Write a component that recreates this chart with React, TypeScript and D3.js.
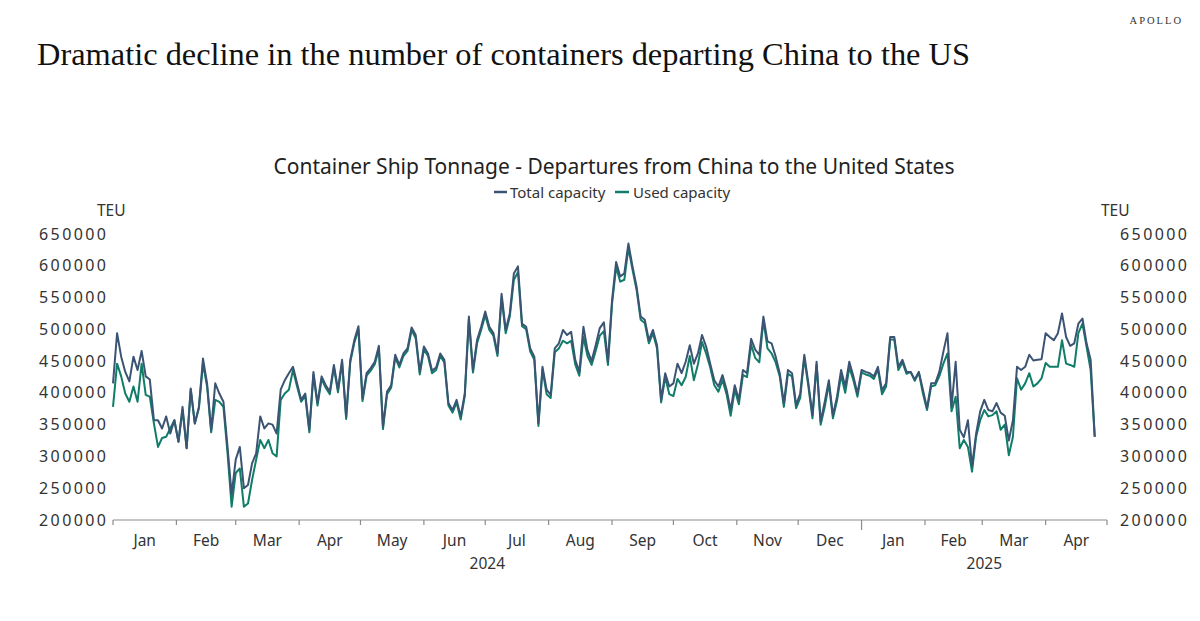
import * as d3 from "d3";

// daily series sampled every 2 days from 1 Jan 2024
const startDate = new Date(2024, 0, 1);
const stepDays = 2;

const totalCapacity = [
  415000, 494000, 457000, 433000, 418000, 457000, 436000, 466000, 426000, 421000,
  357000, 357000, 344000, 363000, 336000, 357000, 323000, 378000, 313000, 407000,
  352000, 378000, 454000, 415000, 342000, 415000, 399000, 386000, 315000, 240000,
  295000, 315000, 250000, 255000, 289000, 305000, 363000, 344000, 352000, 350000,
  336000, 405000, 420000, 431000, 441000, 415000, 389000, 399000, 342000, 433000,
  384000, 426000, 412000, 402000, 444000, 405000, 452000, 363000, 452000, 483000,
  505000, 391000, 431000, 439000, 449000, 474000, 347000, 402000, 412000, 460000,
  444000, 462000, 470000, 503000, 491000, 433000, 473000, 462000, 435000, 440000,
  462000, 452000, 384000, 373000, 389000, 363000, 399000, 520000, 436000, 483000,
  504000, 528000, 504000, 494000, 462000, 556000, 499000, 525000, 588000, 599000,
  509000, 504000, 470000, 457000, 352000, 441000, 405000, 397000, 470000, 478000,
  499000, 491000, 496000, 452000, 433000, 504000, 467000, 450000, 475000, 502000,
  511000, 449000, 546000, 606000, 583000, 588000, 635000, 599000, 567000, 520000,
  515000, 483000, 499000, 475000, 389000, 431000, 410000, 415000, 446000, 431000,
  449000, 475000, 446000, 462000, 491000, 473000, 446000, 420000, 410000, 428000,
  405000, 373000, 412000, 389000, 436000, 431000, 485000, 468000, 460000, 520000,
  481000, 478000, 457000, 431000, 384000, 436000, 431000, 381000, 399000, 460000,
  415000, 365000, 449000, 355000, 386000, 420000, 365000, 394000, 436000, 410000,
  449000, 426000, 399000, 436000, 433000, 431000, 426000, 441000, 404000, 415000,
  488000, 488000, 441000, 452000, 433000, 433000, 421000, 433000, 405000, 376000,
  415000, 415000, 433000, 465000, 494000, 378000, 449000, 342000, 330000, 357000,
  284000, 336000, 371000, 389000, 373000, 371000, 384000, 369000, 364000, 325000,
  357000, 441000, 436000, 441000, 460000, 451000, 452000, 453000, 494000, 488000,
  483000, 494000, 525000, 488000, 474000, 478000, 509000, 517000, 478000, 452000,
  331000,
];

const usedCapacity = [
  378000, 446000, 426000, 399000, 386000, 410000, 386000, 446000, 397000, 394000,
  352000, 315000, 329000, 331000, 344000, 357000, 323000, 373000, 313000, 405000,
  352000, 376000, 446000, 410000, 338000, 389000, 386000, 378000, 305000, 221000,
  274000, 281000, 221000, 226000, 263000, 295000, 326000, 313000, 326000, 305000,
  300000, 389000, 399000, 405000, 436000, 410000, 386000, 395000, 338000, 428000,
  380000, 422000, 408000, 398000, 440000, 401000, 448000, 359000, 448000, 479000,
  500000, 387000, 427000, 435000, 445000, 469000, 343000, 398000, 408000, 456000,
  440000, 458000, 466000, 499000, 486000, 429000, 468000, 458000, 431000, 436000,
  458000, 448000, 380000, 369000, 385000, 358000, 395000, 515000, 432000, 478000,
  499000, 522000, 499000, 490000, 458000, 550000, 494000, 520000, 578000, 590000,
  505000, 500000, 465000, 452000, 348000, 437000, 398000, 392000, 464000, 470000,
  482000, 478000, 482000, 445000, 427000, 488000, 458000, 444000, 466000, 490000,
  497000, 444000, 540000, 598000, 575000, 578000, 628000, 594000, 562000, 515000,
  510000, 478000, 494000, 470000, 385000, 425000, 398000, 395000, 422000, 412000,
  425000, 458000, 420000, 445000, 480000, 462000, 440000, 412000, 402000, 420000,
  398000, 364000, 405000, 382000, 428000, 425000, 476000, 455000, 448000, 514000,
  470000, 462000, 448000, 426000, 378000, 430000, 426000, 376000, 392000, 455000,
  410000, 360000, 444000, 350000, 378000, 414000, 360000, 388000, 428000, 400000,
  440000, 420000, 394000, 432000, 429000, 427000, 422000, 437000, 398000, 410000,
  484000, 484000, 436000, 448000, 430000, 433000, 419000, 432000, 399000, 373000,
  410000, 412000, 426000, 446000, 462000, 371000, 394000, 313000, 326000, 315000,
  276000, 331000, 357000, 373000, 363000, 365000, 371000, 342000, 350000, 302000,
  331000, 423000, 405000, 415000, 431000, 410000, 415000, 423000, 447000, 441000,
  441000, 441000, 483000, 446000, 444000, 441000, 494000, 509000, 473000, 436000,
  331000,
];

const yTicks = [200000, 250000, 300000, 350000, 400000, 450000, 500000, 550000, 600000, 650000];
const monthNames = ["Jan", "Feb", "Mar", "Apr", "May", "Jun", "Jul", "Aug", "Sep", "Oct", "Nov", "Dec"];
const yearLabels = ["2024", "2025"];
const seriesNames = ["Total capacity", "Used capacity"];

const TOTAL_COLOR = "#3b5473";
const USED_COLOR = "#0f7d68";
const SANS = "'Noto Sans', 'Open Sans', sans-serif";
const SERIF = "'Liberation Serif', 'DejaVu Serif', serif";

export default function App() {
  const x = d3
    .scaleTime()
    .domain([new Date(2024, 0, 1), new Date(2025, 4, 1)])
    .range([113, 1107]);
  const y = d3.scaleLinear().domain([200000, 650000]).range([520, 234]);

  const dates = totalCapacity.map((_, i) => d3.timeDay.offset(startDate, i * stepDays));
  const line = d3
    .line<number>()
    .x((_, i) => x(dates[i]))
    .y((d) => y(d));

  const monthStarts = d3.timeMonth.range(new Date(2024, 0, 1), new Date(2025, 4, 2));
  const yearStart2025 = new Date(2025, 0, 1);

  return (
    <svg
      width={1200}
      height={621}
      style={{ position: "absolute", left: 0, top: 0, background: "#fff" }}
    >
      <rect width={1200} height={621} fill="#fff" />
      <text x={1183} y={24} textAnchor="end" fontFamily={SERIF} fontSize={10.5} letterSpacing={2} fill="#333">
        APOLLO
      </text>
      <text
        x={37}
        y={65}
        fontFamily={SERIF}
        fontSize={31}
        textLength={933}
        lengthAdjust="spacingAndGlyphs"
        fill="#111"
      >
        Dramatic decline in the number of containers departing China to the US
      </text>

      <text
        x={614}
        y={174}
        textAnchor="middle"
        fontFamily={SANS}
        fontSize={21}
        textLength={681}
        lengthAdjust="spacingAndGlyphs"
        fill="#222"
      >
        Container Ship Tonnage - Departures from China to the United States
      </text>

      {/* legend */}
      <g fontFamily={SANS} fontSize={15} fill="#333">
        <line x1={494} x2={507} y1={192} y2={192} stroke={TOTAL_COLOR} strokeWidth={2.5} />
        <text x={510} y={198}>{seriesNames[0]}</text>
        <line x1={615} x2={629} y1={192} y2={192} stroke={USED_COLOR} strokeWidth={2.5} />
        <text x={633} y={198}>{seriesNames[1]}</text>
      </g>

      {/* y axes labels */}
      <g fontFamily={SANS} fontSize={16} fill="#333">
        <text x={97} y={216} fontSize={15.5}>TEU</text>
        <text x={1101} y={216} fontSize={15.5}>TEU</text>
        {yTicks.map((t) => (
          <g key={t}>
            <text x={39} y={y(t) + 5.5} textLength={67} lengthAdjust="spacing">{t}</text>
            <text x={1120} y={y(t) + 5.5} textLength={67} lengthAdjust="spacing">{t}</text>
          </g>
        ))}
      </g>

      {/* x axis */}
      <g>
        <line x1={113} x2={1107} y1={520} y2={520} stroke="#8c8c8c" strokeWidth={1.2} />
        {monthStarts.map((m) => (
          <line
            key={m.getTime()}
            x1={x(m)}
            x2={x(m)}
            y1={520}
            y2={+m === +yearStart2025 ? 530 : 525}
            stroke="#8c8c8c"
            strokeWidth={1.2}
          />
        ))}
        <g fontFamily={SANS} fontSize={15.5} fill="#333" textAnchor="middle">
          {monthStarts.slice(0, -1).map((m, i) => (
            <text key={m.getTime()} x={(x(m) + x(monthStarts[i + 1])) / 2} y={546}>
              {monthNames[m.getMonth()]}
            </text>
          ))}
          <text x={(x(new Date(2024, 0, 1)) + x(yearStart2025)) / 2} y={569}>{yearLabels[0]}</text>
          <text x={(x(yearStart2025) + x(new Date(2025, 4, 1))) / 2} y={569}>{yearLabels[1]}</text>
        </g>
      </g>

      {/* series */}
      <path d={line(usedCapacity) ?? ""} fill="none" stroke={USED_COLOR} strokeWidth={2} strokeLinejoin="round" />
      <path d={line(totalCapacity) ?? ""} fill="none" stroke={TOTAL_COLOR} strokeWidth={2} strokeLinejoin="round" />
    </svg>
  );
}
